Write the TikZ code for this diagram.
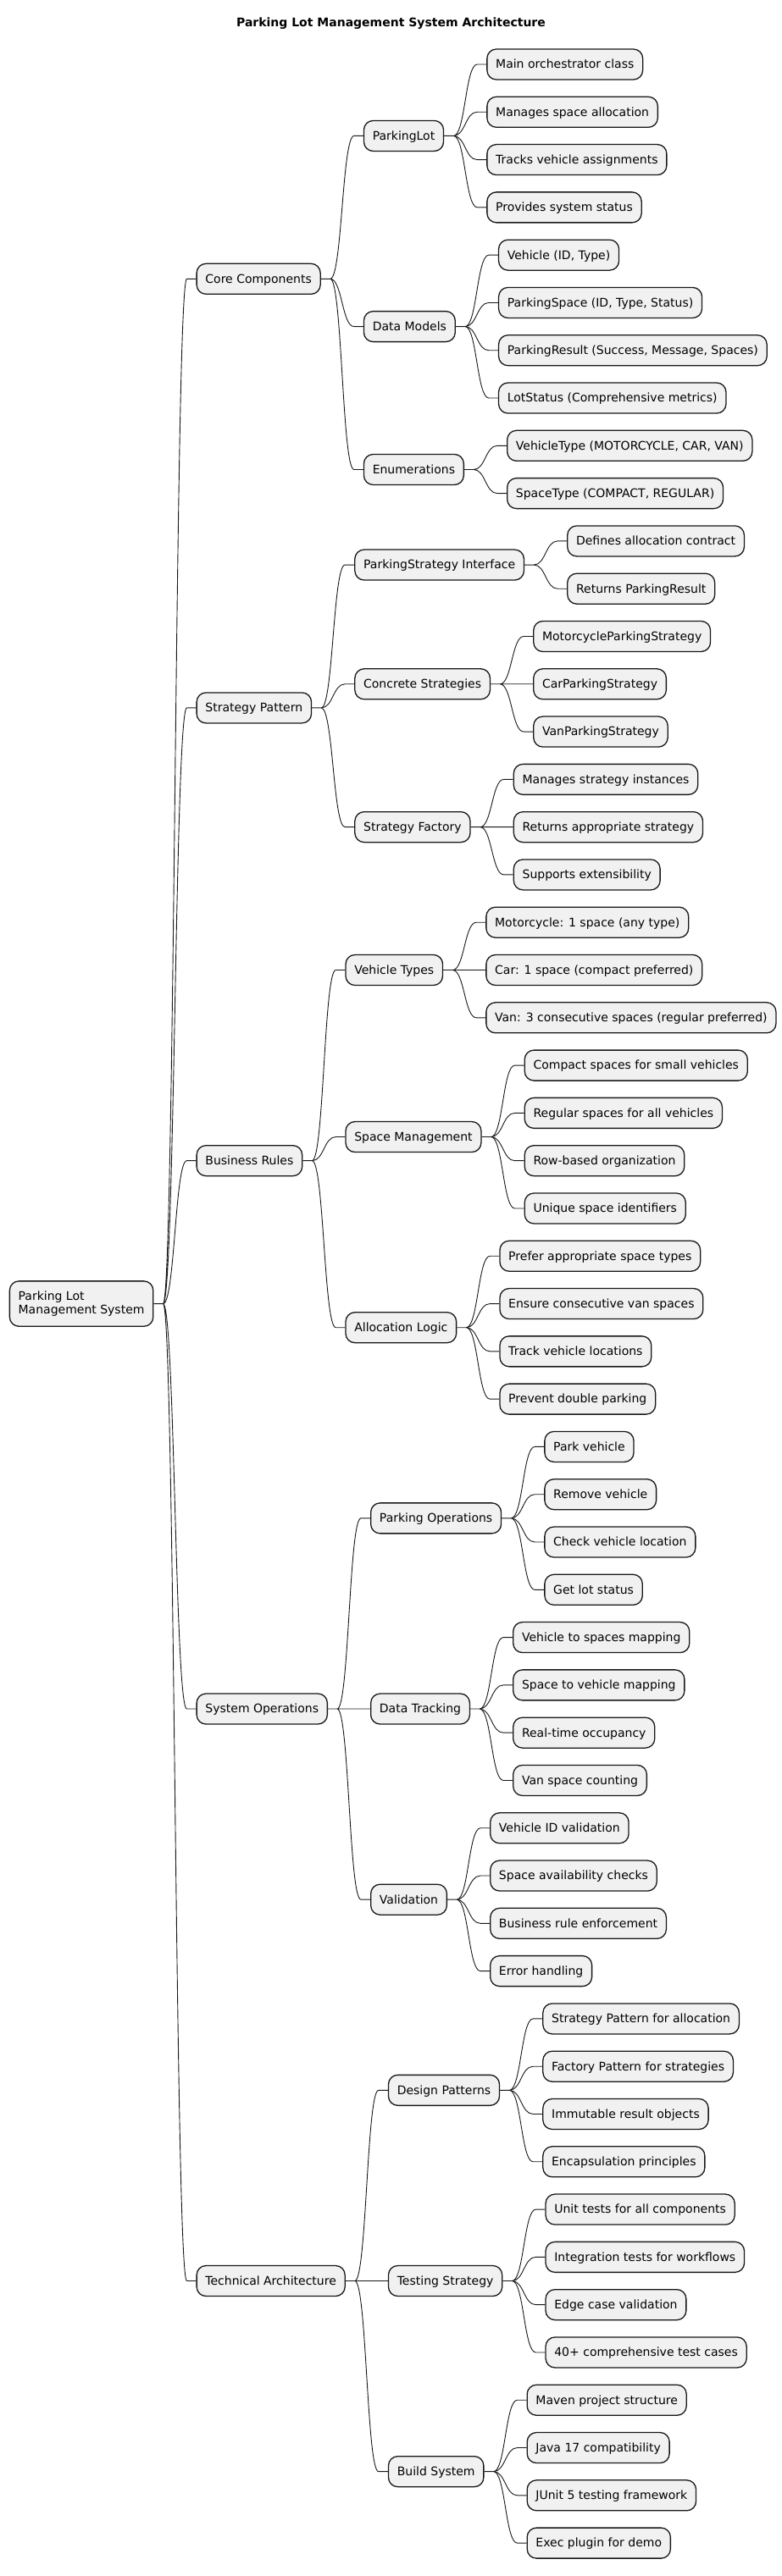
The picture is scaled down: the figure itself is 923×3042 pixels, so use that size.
\documentclass[tikz,border=0pt]{standalone}
\usepackage{fontspec}
\setmainfont{DejaVu Sans}
\usetikzlibrary{positioning}
\pgfmathsetmacro{\mmpitch}{56.29}
\pgfmathsetmacro{\mmgap}{50}
\pgfmathsetmacro{\mmstub}{11}
\definecolor{mmfill}{HTML}{F1F1F1}
\definecolor{mmline}{HTML}{181818}
\tikzset{
  mmbox/.style={draw=mmline, fill=mmfill, line width=1.3pt, rounded corners=11pt,
    inner xsep=10.3pt, minimum height=36pt, text height=13pt, text depth=3.3pt,
    text=black, font=\fontsize{14pt}{16.3pt}\selectfont},
  mmroot/.style={mmbox, align=left, minimum height=53.4pt, text height=, text depth=},
  mmlink/.style={draw=mmline, line width=0.9pt,
    to path={-- ++(\mmstub pt,0) .. controls +(14pt,0) and +(-14pt,0)
      .. ([xshift=-\mmstub pt]\tikztotarget) -- (\tikztotarget)}},
}

\begin{document}
\begin{tikzpicture}[x=1pt, y=-1pt]
    \useasboundingbox (0,0) rectangle (923,3042);
    % title
    \node[font=\fontsize{14pt}{16.3pt}\selectfont\bfseries] (title) at (461.5,28)
        {Parking Lot Management System Architecture};
    % root
    \node[mmroot, anchor=west] (root) at (10.7,{76+26*\mmpitch})
        {Parking Lot\\Management System};
    % first level
    \node[mmbox, right=\mmgap pt of root, yshift=21.5*\mmpitch] (core) {Core Components};
    \node[mmbox, right=\mmgap pt of root, yshift=12.5*\mmpitch] (strat) {Strategy Pattern};
    \node[mmbox, right=\mmgap pt of root, yshift=3*\mmpitch] (rules) {Business Rules};
    \node[mmbox, right=\mmgap pt of root, yshift=-8.5*\mmpitch] (ops) {System Operations};
    \node[mmbox, right=\mmgap pt of root, yshift=-20.5*\mmpitch] (tech) {Technical Architecture};
    % core components
    \node[mmbox, right=\mmgap pt of core, yshift=3*\mmpitch] (lot) {ParkingLot};
    \node[mmbox, right=\mmgap pt of core, yshift=-1*\mmpitch] (models) {Data Models};
    \node[mmbox, right=\mmgap pt of core, yshift=-4*\mmpitch] (enums) {Enumerations};
    \node[mmbox, right=\mmgap pt of lot, yshift=1.5*\mmpitch] (lot1) {Main orchestrator class};
    \node[mmbox, right=\mmgap pt of lot, yshift=0.5*\mmpitch] (lot2) {Manages space allocation};
    \node[mmbox, right=\mmgap pt of lot, yshift=-0.5*\mmpitch] (lot3) {Tracks vehicle assignments};
    \node[mmbox, right=\mmgap pt of lot, yshift=-1.5*\mmpitch] (lot4) {Provides system status};
    \node[mmbox, right=\mmgap pt of models, yshift=1.5*\mmpitch] (models1) {Vehicle (ID, Type)};
    \node[mmbox, right=\mmgap pt of models, yshift=0.5*\mmpitch] (models2) {ParkingSpace (ID, Type, Status)};
    \node[mmbox, right=\mmgap pt of models, yshift=-0.5*\mmpitch] (models3) {ParkingResult (Success, Message, Spaces)};
    \node[mmbox, right=\mmgap pt of models, yshift=-1.5*\mmpitch] (models4) {LotStatus (Comprehensive metrics)};
    \node[mmbox, right=\mmgap pt of enums, yshift=0.5*\mmpitch] (enums1) {VehicleType (MOTORCYCLE, CAR, VAN)};
    \node[mmbox, right=\mmgap pt of enums, yshift=-0.5*\mmpitch] (enums2) {SpaceType (COMPACT, REGULAR)};
    % strategy pattern
    \node[mmbox, right=\mmgap pt of strat, yshift=3*\mmpitch] (iface) {ParkingStrategy Interface};
    \node[mmbox, right=\mmgap pt of strat, yshift=0.5*\mmpitch] (concrete) {Concrete Strategies};
    \node[mmbox, right=\mmgap pt of strat, yshift=-2.5*\mmpitch] (factory) {Strategy Factory};
    \node[mmbox, right=\mmgap pt of iface, yshift=0.5*\mmpitch] (iface1) {Defines allocation contract};
    \node[mmbox, right=\mmgap pt of iface, yshift=-0.5*\mmpitch] (iface2) {Returns ParkingResult};
    \node[mmbox, right=\mmgap pt of concrete, yshift=1*\mmpitch] (concrete1) {MotorcycleParkingStrategy};
    \node[mmbox, right=\mmgap pt of concrete] (concrete2) {CarParkingStrategy};
    \node[mmbox, right=\mmgap pt of concrete, yshift=-1*\mmpitch] (concrete3) {VanParkingStrategy};
    \node[mmbox, right=\mmgap pt of factory, yshift=1*\mmpitch] (factory1) {Manages strategy instances};
    \node[mmbox, right=\mmgap pt of factory] (factory2) {Returns appropriate strategy};
    \node[mmbox, right=\mmgap pt of factory, yshift=-1*\mmpitch] (factory3) {Supports extensibility};
    % business rules
    \node[mmbox, right=\mmgap pt of rules, yshift=4*\mmpitch] (vtypes) {Vehicle Types};
    \node[mmbox, right=\mmgap pt of rules, yshift=0.5*\mmpitch] (spaces) {Space Management};
    \node[mmbox, right=\mmgap pt of rules, yshift=-3.5*\mmpitch] (alloc) {Allocation Logic};
    \node[mmbox, right=\mmgap pt of vtypes, yshift=1*\mmpitch] (vtypes1) {Motorcycle: 1 space (any type)};
    \node[mmbox, right=\mmgap pt of vtypes] (vtypes2) {Car: 1 space (compact preferred)};
    \node[mmbox, right=\mmgap pt of vtypes, yshift=-1*\mmpitch] (vtypes3) {Van: 3 consecutive spaces (regular preferred)};
    \node[mmbox, right=\mmgap pt of spaces, yshift=1.5*\mmpitch] (spaces1) {Compact spaces for small vehicles};
    \node[mmbox, right=\mmgap pt of spaces, yshift=0.5*\mmpitch] (spaces2) {Regular spaces for all vehicles};
    \node[mmbox, right=\mmgap pt of spaces, yshift=-0.5*\mmpitch] (spaces3) {Row-based organization};
    \node[mmbox, right=\mmgap pt of spaces, yshift=-1.5*\mmpitch] (spaces4) {Unique space identifiers};
    \node[mmbox, right=\mmgap pt of alloc, yshift=1.5*\mmpitch] (alloc1) {Prefer appropriate space types};
    \node[mmbox, right=\mmgap pt of alloc, yshift=0.5*\mmpitch] (alloc2) {Ensure consecutive van spaces};
    \node[mmbox, right=\mmgap pt of alloc, yshift=-0.5*\mmpitch] (alloc3) {Track vehicle locations};
    \node[mmbox, right=\mmgap pt of alloc, yshift=-1.5*\mmpitch] (alloc4) {Prevent double parking};
    % system operations
    \node[mmbox, right=\mmgap pt of ops, yshift=4*\mmpitch] (parkops) {Parking Operations};
    \node[mmbox, right=\mmgap pt of ops] (tracking) {Data Tracking};
    \node[mmbox, right=\mmgap pt of ops, yshift=-4*\mmpitch] (valid) {Validation};
    \node[mmbox, right=\mmgap pt of parkops, yshift=1.5*\mmpitch] (parkops1) {Park vehicle};
    \node[mmbox, right=\mmgap pt of parkops, yshift=0.5*\mmpitch] (parkops2) {Remove vehicle};
    \node[mmbox, right=\mmgap pt of parkops, yshift=-0.5*\mmpitch] (parkops3) {Check vehicle location};
    \node[mmbox, right=\mmgap pt of parkops, yshift=-1.5*\mmpitch] (parkops4) {Get lot status};
    \node[mmbox, right=\mmgap pt of tracking, yshift=1.5*\mmpitch] (tracking1) {Vehicle to spaces mapping};
    \node[mmbox, right=\mmgap pt of tracking, yshift=0.5*\mmpitch] (tracking2) {Space to vehicle mapping};
    \node[mmbox, right=\mmgap pt of tracking, yshift=-0.5*\mmpitch] (tracking3) {Real-time occupancy};
    \node[mmbox, right=\mmgap pt of tracking, yshift=-1.5*\mmpitch] (tracking4) {Van space counting};
    \node[mmbox, right=\mmgap pt of valid, yshift=1.5*\mmpitch] (valid1) {Vehicle ID validation};
    \node[mmbox, right=\mmgap pt of valid, yshift=0.5*\mmpitch] (valid2) {Space availability checks};
    \node[mmbox, right=\mmgap pt of valid, yshift=-0.5*\mmpitch] (valid3) {Business rule enforcement};
    \node[mmbox, right=\mmgap pt of valid, yshift=-1.5*\mmpitch] (valid4) {Error handling};
    % technical architecture
    \node[mmbox, right=\mmgap pt of tech, yshift=4*\mmpitch] (patterns) {Design Patterns};
    \node[mmbox, right=\mmgap pt of tech] (testing) {Testing Strategy};
    \node[mmbox, right=\mmgap pt of tech, yshift=-4*\mmpitch] (build) {Build System};
    \node[mmbox, right=\mmgap pt of patterns, yshift=1.5*\mmpitch] (patterns1) {Strategy Pattern for allocation};
    \node[mmbox, right=\mmgap pt of patterns, yshift=0.5*\mmpitch] (patterns2) {Factory Pattern for strategies};
    \node[mmbox, right=\mmgap pt of patterns, yshift=-0.5*\mmpitch] (patterns3) {Immutable result objects};
    \node[mmbox, right=\mmgap pt of patterns, yshift=-1.5*\mmpitch] (patterns4) {Encapsulation principles};
    \node[mmbox, right=\mmgap pt of testing, yshift=1.5*\mmpitch] (testing1) {Unit tests for all components};
    \node[mmbox, right=\mmgap pt of testing, yshift=0.5*\mmpitch] (testing2) {Integration tests for workflows};
    \node[mmbox, right=\mmgap pt of testing, yshift=-0.5*\mmpitch] (testing3) {Edge case validation};
    \node[mmbox, right=\mmgap pt of testing, yshift=-1.5*\mmpitch] (testing4) {40+ comprehensive test cases};
    \node[mmbox, right=\mmgap pt of build, yshift=1.5*\mmpitch] (build1) {Maven project structure};
    \node[mmbox, right=\mmgap pt of build, yshift=0.5*\mmpitch] (build2) {Java 17 compatibility};
    \node[mmbox, right=\mmgap pt of build, yshift=-0.5*\mmpitch] (build3) {JUnit 5 testing framework};
    \node[mmbox, right=\mmgap pt of build, yshift=-1.5*\mmpitch] (build4) {Exec plugin for demo};
    % draw branches
    \draw[mmlink] (root.east) to (core.west) (root.east) to (strat.west)
        (root.east) to (rules.west) (root.east) to (ops.west) (root.east) to (tech.west);
    \draw[mmlink] (core.east) to (lot.west) (core.east) to (models.west) (core.east) to (enums.west);
    \draw[mmlink] (lot.east) to (lot1.west) (lot.east) to (lot2.west)
        (lot.east) to (lot3.west) (lot.east) to (lot4.west);
    \draw[mmlink] (models.east) to (models1.west) (models.east) to (models2.west)
        (models.east) to (models3.west) (models.east) to (models4.west);
    \draw[mmlink] (enums.east) to (enums1.west) (enums.east) to (enums2.west);
    \draw[mmlink] (strat.east) to (iface.west) (strat.east) to (concrete.west) (strat.east) to (factory.west);
    \draw[mmlink] (iface.east) to (iface1.west) (iface.east) to (iface2.west);
    \draw[mmlink] (concrete.east) to (concrete1.west) (concrete.east) to (concrete2.west)
        (concrete.east) to (concrete3.west);
    \draw[mmlink] (factory.east) to (factory1.west) (factory.east) to (factory2.west)
        (factory.east) to (factory3.west);
    \draw[mmlink] (rules.east) to (vtypes.west) (rules.east) to (spaces.west) (rules.east) to (alloc.west);
    \draw[mmlink] (vtypes.east) to (vtypes1.west) (vtypes.east) to (vtypes2.west)
        (vtypes.east) to (vtypes3.west);
    \draw[mmlink] (spaces.east) to (spaces1.west) (spaces.east) to (spaces2.west)
        (spaces.east) to (spaces3.west) (spaces.east) to (spaces4.west);
    \draw[mmlink] (alloc.east) to (alloc1.west) (alloc.east) to (alloc2.west)
        (alloc.east) to (alloc3.west) (alloc.east) to (alloc4.west);
    \draw[mmlink] (ops.east) to (parkops.west) (ops.east) to (tracking.west) (ops.east) to (valid.west);
    \draw[mmlink] (parkops.east) to (parkops1.west) (parkops.east) to (parkops2.west)
        (parkops.east) to (parkops3.west) (parkops.east) to (parkops4.west);
    \draw[mmlink] (tracking.east) to (tracking1.west) (tracking.east) to (tracking2.west)
        (tracking.east) to (tracking3.west) (tracking.east) to (tracking4.west);
    \draw[mmlink] (valid.east) to (valid1.west) (valid.east) to (valid2.west)
        (valid.east) to (valid3.west) (valid.east) to (valid4.west);
    \draw[mmlink] (tech.east) to (patterns.west) (tech.east) to (testing.west) (tech.east) to (build.west);
    \draw[mmlink] (patterns.east) to (patterns1.west) (patterns.east) to (patterns2.west)
        (patterns.east) to (patterns3.west) (patterns.east) to (patterns4.west);
    \draw[mmlink] (testing.east) to (testing1.west) (testing.east) to (testing2.west)
        (testing.east) to (testing3.west) (testing.east) to (testing4.west);
    \draw[mmlink] (build.east) to (build1.west) (build.east) to (build2.west)
        (build.east) to (build3.west) (build.east) to (build4.west);
\end{tikzpicture}
\end{document}
